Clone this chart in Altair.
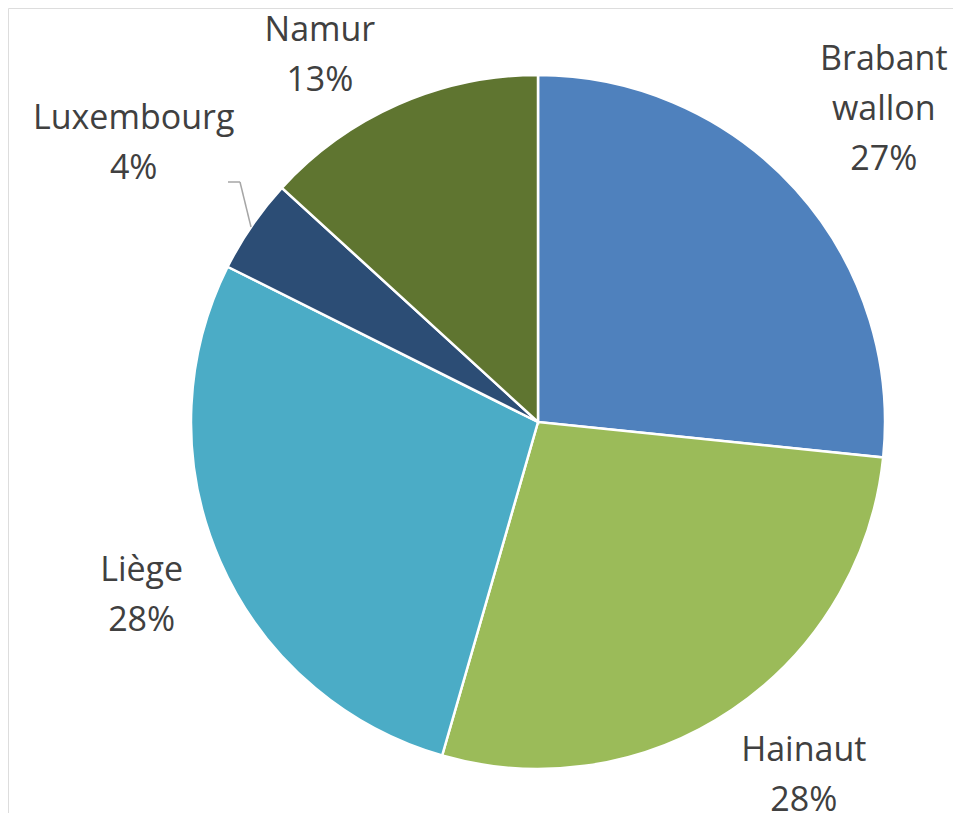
import altair as alt
import pandas as pd

regions = ["Brabant wallon", "Hainaut", "Liège", "Luxembourg", "Namur"]
shares = [26.6, 27.8, 27.9, 4.4, 13.2]
colors = ["#4F81BD", "#9BBB59", "#4BACC6", "#2C4D75", "#5F7530"]

df = pd.DataFrame({"region": regions, "share": shares, "order": list(range(len(regions)))})

cx, cy = 530, 414          # pie centre inside the plot area
R = 347                    # pie radius
GAP = 25                   # distance between pie edge and label box
CHAR_W = 20                # approx. glyph width at the label font size
LINE_H = 50                # label line height
TOP, BOT = 10, 805         # vertical limits for label blocks
SMALL_EXTRA = 15           # labels of thin slices sit further out (with a leader line)

base = alt.Chart(df).transform_joinaggregate(
    total="sum(share)"
).transform_window(
    cum="sum(share)", sort=[alt.SortField("order")], frame=[None, 0]
).transform_calculate(
    label="replace(datum.region, ' ', '\\n') + '\\n' + format(datum.share / datum.total, '.0%')",
    mid="(datum.cum - datum.share / 2) / datum.total * 2 * PI",
    nlines="length(split(datum.region, ' ')) + 1",
    maxlen="max(length(split(datum.region, ' ')[0]), length(split(datum.region, ' ')[1] || ''))",
).transform_calculate(
    half=f"(datum.nlines * {LINE_H} - {LINE_H // 2}) / 2",
).transform_calculate(
    lr=f"{R + GAP} + datum.maxlen * {CHAR_W} / 2 * abs(sin(datum.mid)) + datum.half * abs(cos(datum.mid))"
       f" + (datum.share / datum.total < 0.05 ? {SMALL_EXTRA} : 0)",
).transform_calculate(
    ay=f"clamp({cy} - datum.lr * cos(datum.mid), {TOP} + datum.half, {BOT} - datum.half)",
).transform_calculate(
    tx=f"{cx} + (sin(datum.mid) >= 0 ? 1 : -1) * sqrt(max(0, datum.lr * datum.lr - pow(datum.ay - {cy}, 2)))",
    ty=f"datum.ay - {LINE_H // 2} * (datum.nlines - 1)",
)

pie = base.mark_arc(outerRadius=R, stroke="white", strokeWidth=2.5).encode(
    theta=alt.Theta("share:Q", stack=True),
    order=alt.Order("order:Q"),
    color=alt.Color("region:N", scale=alt.Scale(domain=regions, range=colors), legend=None),
    x=alt.value(cx),
    y=alt.value(cy),
)

labels = base.mark_text(
    fontSize=34, font="Open Sans", color="#404040", lineBreak="\n",
    lineHeight=LINE_H, align="center", baseline="middle"
).encode(
    text="label:N",
    x=alt.X("tx:Q", scale=None, axis=None),
    y=alt.Y("ty:Q", scale=None, axis=None),
)

one = pd.DataFrame({"k": [0]})
leader = alt.Chart(one).mark_rule(color="#A6A6A6", strokeWidth=1.5).encode(
    x=alt.value(220), y=alt.value(174), x2=alt.value(232), y2=alt.value(174)
) + alt.Chart(one).mark_rule(color="#A6A6A6", strokeWidth=1.5).encode(
    x=alt.value(232), y=alt.value(174), x2=alt.value(243), y2=alt.value(219)
)

chart = alt.layer(pie, labels, leader).properties(
    width=945, height=805, padding=0, autosize=alt.AutoSizeParams(type="none")
).configure_view(stroke=None).configure(background="white")

chart.save("out.html", embed_options={"renderer": "svg", "actions": False})
